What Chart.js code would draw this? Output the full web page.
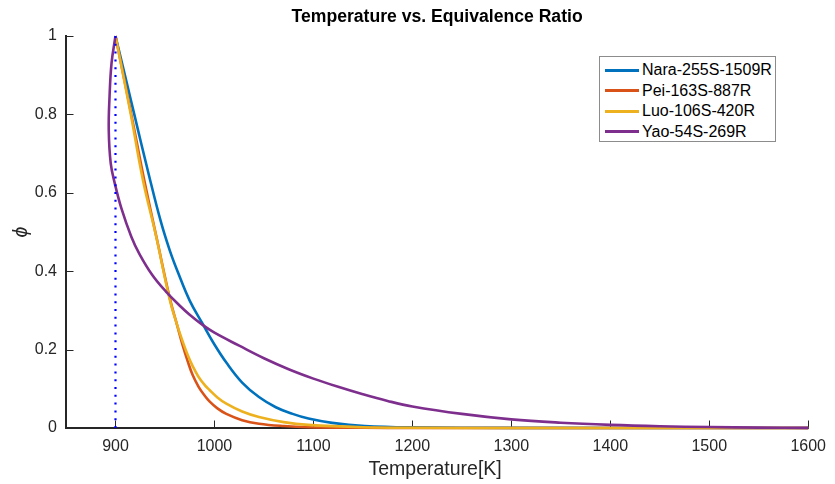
<!DOCTYPE html>
<html>
<head>
<meta charset="utf-8">
<script src="https://cdn.jsdelivr.net/npm/chart.js@4.4.1/dist/chart.umd.min.js"></script>
<style>
  html, body { margin: 0; padding: 0; background: #fff; }
  #wrap { position: relative; width: 835px; height: 484px; }
  #legend {
    position: absolute; left: 599px; top: 56px; width: 177px; height: 86px;
    border: 1px solid #8c8c8c; background: #fff; box-sizing: border-box;
    font: 16px "Liberation Sans", Arial, sans-serif; color: #000; padding-top: 3px;
  }
  .item { display: flex; align-items: center; height: 20.5px; white-space: nowrap; }
  .swatch { width: 34px; height: 3px; margin-left: 5px; margin-right: 3px; }
</style>
</head>
<body>
<div id="wrap">
  <canvas id="chart" width="835" height="484"></canvas>
  <div id="legend"></div>
</div>
<script>
const FONT = '"Liberation Sans", Arial, sans-serif';

// tick labels
const xTicks = [900, 1000, 1100, 1200, 1300, 1400, 1500, 1600];
const yTicks = [0, 0.2, 0.4, 0.6, 0.8, 1];

// series (temperature [K], equivalence ratio)
const naraT   = [900, 910, 919, 934, 946, 955, 963, 975, 988, 1000, 1012, 1028, 1045, 1062, 1079, 1095, 1119, 1152, 1200, 1300, 1600];
const naraPhi = [1, 0.895, 0.8, 0.643, 0.525, 0.452, 0.398, 0.325, 0.266, 0.213, 0.167, 0.116, 0.079, 0.053, 0.036, 0.024, 0.013, 0.005, 0.0015, 0.0003, 0];

const peiT   = [900, 916, 929, 942, 955, 962, 968, 973, 978, 984, 990, 995, 1003, 1012, 1028, 1045, 1070, 1095, 1150, 1200, 1600];
const peiPhi = [1, 0.8, 0.633, 0.48, 0.33, 0.265, 0.21, 0.17, 0.135, 0.105, 0.083, 0.068, 0.05, 0.036, 0.02, 0.011, 0.005, 0.002, 0.0005, 0.0001, 0];

const luoT   = [900, 915.5, 927.7, 941, 954.6, 962, 968, 973, 978, 984, 990, 995, 1003, 1012, 1028, 1045, 1070, 1095, 1150, 1200, 1300, 1600];
const luoPhi = [1, 0.8, 0.633, 0.49, 0.33, 0.265, 0.22, 0.186, 0.158, 0.13, 0.11, 0.097, 0.078, 0.062, 0.042, 0.028, 0.015, 0.008, 0.002, 0.0005, 0.0001, 0];

const yaoT   = [900, 896, 894, 893.2, 895.2, 899.3, 906, 916, 924.4, 937, 951, 965, 975, 988, 1000, 1025, 1050, 1075, 1100, 1125, 1150, 1175, 1200, 1250, 1300, 1350, 1400, 1450, 1500, 1550, 1600];
const yaoPhi = [1, 0.93, 0.845, 0.76, 0.675, 0.624, 0.56, 0.488, 0.443, 0.391, 0.348, 0.312, 0.289, 0.263, 0.243, 0.21, 0.178, 0.15, 0.126, 0.105, 0.086, 0.069, 0.055, 0.036, 0.022, 0.0135, 0.008, 0.0045, 0.0025, 0.001, 0.0003];

// initial temperature marker
const markT   = [900, 900];
const markPhi = [0, 1];

const series = [
  { label: 'Nara-255S-1509R', t: naraT, phi: naraPhi, color: '#0072BD', order: 4 },
  { label: 'Pei-163S-887R',   t: peiT,  phi: peiPhi,  color: '#D95319', order: 3 },
  { label: 'Luo-106S-420R',   t: luoT,  phi: luoPhi,  color: '#EDB120', order: 2 },
  { label: 'Yao-54S-269R',    t: yaoT,  phi: yaoPhi,  color: '#7E2F8E', order: 1 },
];

const toPoints = (t, phi) => t.map((v, i) => ({ x: v, y: phi[i] }));

const datasets = series.map(s => ({
  label: s.label,
  data: toPoints(s.t, s.phi),
  borderColor: s.color,
  backgroundColor: s.color,
  borderWidth: 2.6,
  pointRadius: 0,
  showLine: true,
  tension: 0.4,
  clip: false,
  order: s.order,
}));

datasets.push({
  label: 'marker',
  data: toPoints(markT, markPhi),
  borderColor: '#0000ff',
  borderWidth: 2.2,
  borderDash: [2, 5.8],
  pointRadius: 0,
  showLine: true,
  tension: 0,
  clip: false,
  order: 0,
});

// inward ticks and axis titles
const axisDecor = {
  id: 'axisDecor',
  beforeDatasetsDraw(chart) {
    const { ctx, chartArea: a, scales: { x, y } } = chart;
    ctx.save();
    ctx.strokeStyle = '#262626';
    ctx.lineWidth = 1;
    xTicks.forEach(v => {
      const px = Math.round(x.getPixelForValue(v)) + 0.5;
      ctx.beginPath(); ctx.moveTo(px, a.bottom); ctx.lineTo(px, a.bottom - 7.5); ctx.stroke();
    });
    yTicks.forEach(v => {
      const py = Math.round(y.getPixelForValue(v)) + 0.5;
      ctx.beginPath(); ctx.moveTo(a.left, py); ctx.lineTo(a.left + 7.5, py); ctx.stroke();
    });
    ctx.restore();
  },
  afterDraw(chart) {
    const { ctx, chartArea: a } = chart;
    const cx = (a.left + a.right) / 2;
    ctx.save();
    ctx.textAlign = 'center';
    ctx.textBaseline = 'middle';
    ctx.fillStyle = '#000';
    ctx.font = 'bold 17.6px ' + FONT;
    ctx.fillText('Temperature vs. Equivalence Ratio', cx, 17);
    ctx.fillStyle = '#262626';
    ctx.font = '19.5px ' + FONT;
    ctx.fillText('Temperature[K]', cx - 2, 470);
    ctx.translate(22, (a.top + a.bottom) / 2);
    ctx.rotate(-Math.PI / 2);
    ctx.font = 'italic 19.5px ' + FONT;
    ctx.fillText('ϕ', 0, 0);
    ctx.restore();
  }
};

new Chart(document.getElementById('chart').getContext('2d'), {
  type: 'scatter',
  data: { datasets },
  options: {
    responsive: false,
    animation: false,
    devicePixelRatio: 1,
    layout: { padding: { top: 36, right: 23, left: 0, bottom: 0 } },
    plugins: { legend: { display: false }, title: { display: false }, tooltip: { enabled: false } },
    scales: {
      x: {
        type: 'linear', min: 850, max: 1600,
        afterBuildTicks: s => { s.ticks = xTicks.map(v => ({ value: v })); },
        afterFit: s => { s.height = 56; },
        grid: { drawOnChartArea: false, drawTicks: false },
        border: { color: '#262626', width: 2 },
        ticks: { padding: 9, color: '#262626', font: { family: FONT, size: 16 }, callback: v => String(v) },
      },
      y: {
        type: 'linear', min: 0, max: 1,
        afterBuildTicks: s => { s.ticks = yTicks.map(v => ({ value: v })); },
        afterFit: s => { s.width = 66; },
        grid: { drawOnChartArea: false, drawTicks: false },
        border: { color: '#262626', width: 2 },
        ticks: { padding: 9, color: '#262626', font: { family: FONT, size: 16 }, callback: v => String(v) },
      },
    },
  },
  plugins: [axisDecor],
});

// legend
const legend = document.getElementById('legend');
series.forEach(s => {
  const row = document.createElement('div');
  row.className = 'item';
  const sw = document.createElement('span');
  sw.className = 'swatch';
  sw.style.background = s.color;
  const txt = document.createElement('span');
  txt.textContent = s.label;
  row.appendChild(sw);
  row.appendChild(txt);
  legend.appendChild(row);
});
</script>
</body>
</html>
